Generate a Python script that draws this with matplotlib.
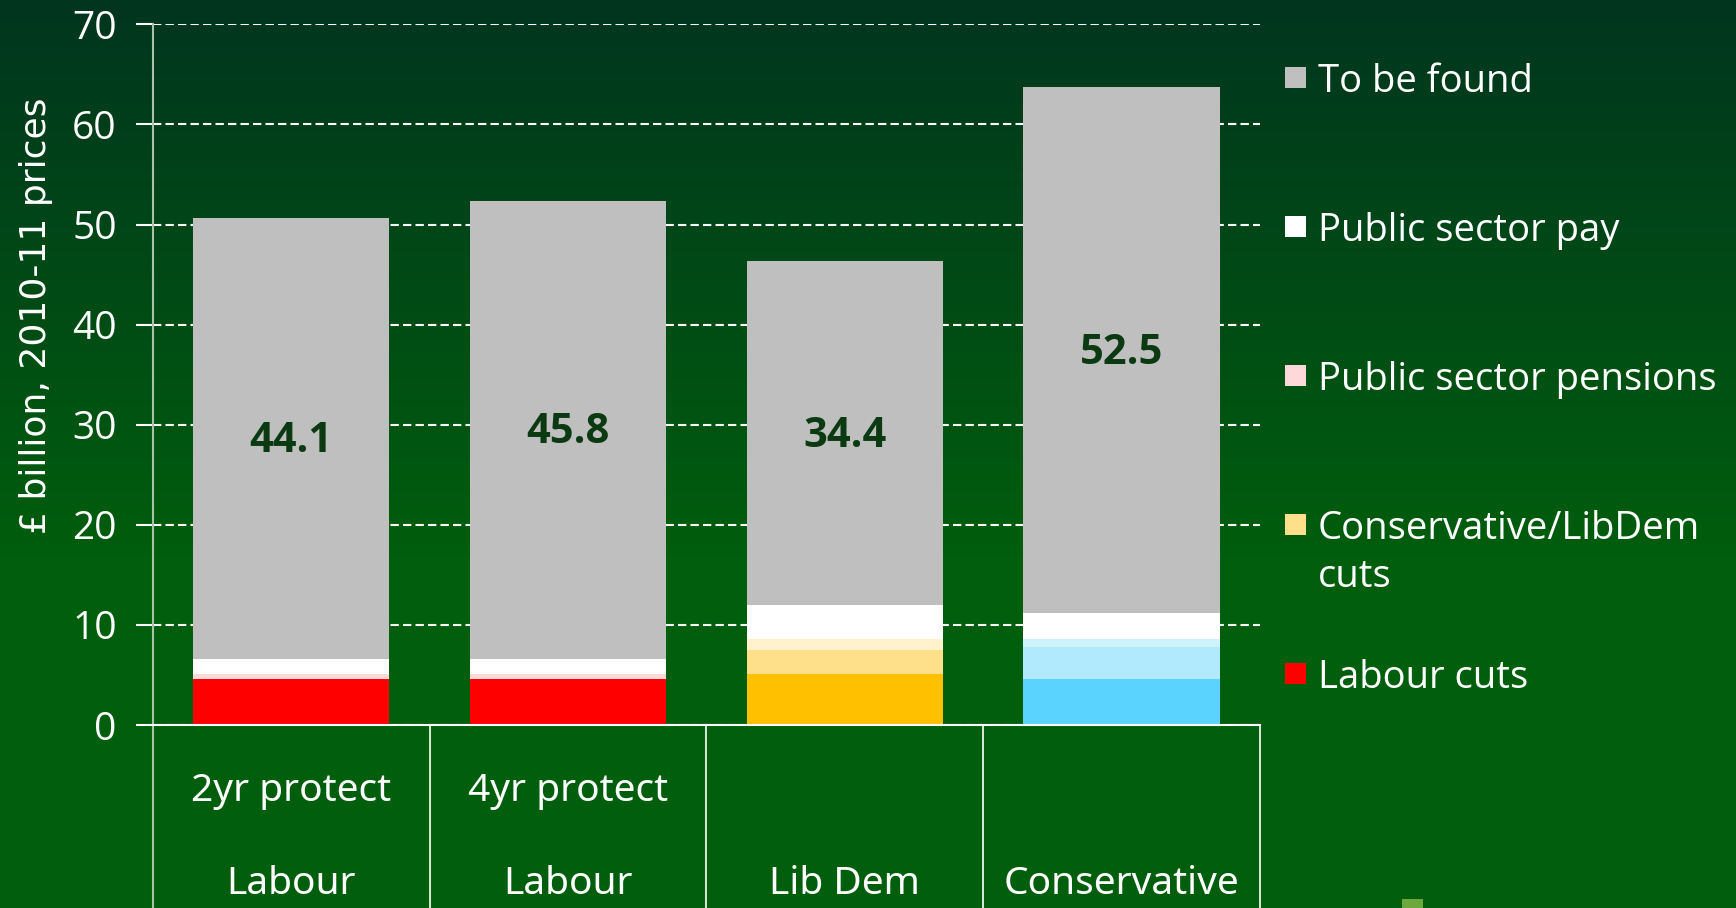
import matplotlib.pyplot as plt
import numpy as np
from matplotlib.patches import Rectangle

# data (GBP billion, 2010-11 prices)
cat_top = ['2yr protect', '4yr protect', '', '']
cat_bottom = ['Labour', 'Labour', 'Lib Dem', 'Conservative']
labour_cuts = [4.6, 4.6, 5.1, 4.6]
con_libdem_cuts = [0.0, 0.0, 2.4, 3.2]
pensions = [0.46, 0.46, 1.06, 0.8]
pay = [1.54, 1.54, 3.4, 2.6]
to_be_found = [44.1, 45.8, 34.4, 52.5]

series_names = ['Labour cuts', 'Conservative/LibDem cuts', 'Public sector pensions',
                'Public sector pay', 'To be found']
legend_colors = ['#FF0000', '#FFE08A', '#FFD9D9', '#FFFFFF', '#BFBFBF']

# each party has its own shading for the lower segments
bar_colors = [
    ['#FF0000', '#FFE08A', '#FADADA', '#FFFFFF', '#BFBFBF'],
    ['#FF0000', '#FFE08A', '#FADADA', '#FFFFFF', '#BFBFBF'],
    ['#FFC000', '#FFE08A', '#FFF2CC', '#FFFFFF', '#BFBFBF'],
    ['#5BD3FF', '#B1EAFD', '#CDF3FD', '#FFFFFF', '#BFBFBF'],
]

font = 'Open Sans'
W, H = 1736, 908

fig = plt.figure(figsize=(W / 100, H / 100), dpi=100)

# green gradient background
bg = fig.add_axes([0, 0, 1, 1], zorder=-10)
top_c = np.array([0.004, 0.21, 0.12])
bot_c = np.array([0.0, 0.37, 0.05])
t = np.clip(np.linspace(0, 1, 300) / 0.62, 0, 1)[:, None]
grad = top_c * (1 - t) + bot_c * t
bg.imshow(grad[:, None, :], aspect='auto', extent=[0, 1, 0, 1])
bg.axis('off')

ax = fig.add_axes([152.8 / W, 1 - 725 / H, (1260 - 152.8) / W, (725 - 24.4) / H])
ax.set_facecolor('none')

x = np.arange(len(cat_bottom))
stack = [labour_cuts, con_libdem_cuts, pensions, pay, to_be_found]
bottoms = np.zeros(len(x))
for k, vals in enumerate(stack):
    cols = [bar_colors[i][k] for i in range(len(x))]
    ax.bar(x, vals, width=0.71, bottom=bottoms, color=cols, zorder=3,
           edgecolor='none')
    bottoms += np.array(vals)

# value labels in the middle of the grey segment
base = np.array(labour_cuts) + np.array(con_libdem_cuts) + np.array(pensions) + np.array(pay)
for i, v in enumerate(to_be_found):
    ax.text(x[i], base[i] + v / 2 - 0.3, f'{v:.1f}', ha='center', va='center',
            fontsize=30, fontweight='bold', color='#0B3A12', family=font, zorder=4)

ax.set_xlim(-0.5, 3.5)
ax.set_ylim(0, 70)
ax.set_yticks(np.arange(0, 80, 10))
ax.yaxis.grid(True, color='white', linestyle=(0, (4, 2)), linewidth=1.5, zorder=0)
ax.set_axisbelow(True)
ax.set_xticks([])
ax.tick_params(axis='y', colors='white', length=12, width=1.5, pad=14, labelsize=28)
for lab in ax.get_yticklabels():
    lab.set_family(font)

for s in ['top', 'right', 'bottom']:
    ax.spines[s].set_visible(False)
ax.spines['left'].set_color('#A9C2A9')
ax.spines['left'].set_linewidth(1.5)

# category table below the axis
tr = ax.get_xaxis_transform()
low = -(H - 725 + 5) / (725 - 24.4)
ax.plot([-0.5, 3.5], [0, 0], color='white', lw=1.5, transform=tr, clip_on=False, zorder=5)
ax.plot([-0.5, -0.5], [0, low], color='#A9C2A9', lw=1.5, transform=tr, clip_on=False)
for b in np.arange(0.5, 4.0, 1.0):
    ax.plot([b, b], [0, low], color='white', lw=1.2, transform=tr, clip_on=False)
for i in range(len(x)):
    ax.text(x[i], -(791 - 725) / 700.6, cat_top[i], transform=tr, ha='center', va='center',
            color='white', fontsize=28, family='Noto Sans')
    ax.text(x[i], -(884 - 725) / 700.6, cat_bottom[i], transform=tr, ha='center', va='center',
            color='white', fontsize=28, family='Noto Sans')

fig.text(36.5 / W, 1 - 316 / H, '£ billion, 2010-11 prices', rotation=90, ha='center',
         va='center', color='white', fontsize=26, family=['Liberation Sans Narrow', 'DejaVu Sans'])

# legend drawn by hand to keep the wide row spacing
leg_y = [77.9, 226.5, 375.4, 524.8, 673]
leg_labels = ['To be found', 'Public sector pay', 'Public sector pensions',
              'Conservative/LibDem\ncuts', 'Labour cuts']
leg_cols = legend_colors[::-1]
for yy, lab, c in zip(leg_y, leg_labels, leg_cols):
    fig.patches.append(Rectangle((1285 / W, 1 - (yy + 10.5) / H), 21 / W, 21 / H,
                                 transform=fig.transFigure, facecolor=c, edgecolor='none'))
    fig.text(1318 / W, 1 - yy / H, lab.split('\n')[0], ha='left', va='center_baseline',
             color='white', fontsize=27.5, family=font)
    if '\n' in lab:
        fig.text(1318 / W, 1 - (yy + 47.5) / H, lab.split('\n')[1], ha='left',
                 va='center_baseline', color='white', fontsize=27.5, family=font)

# small logo fragment at the bottom edge
fig.patches.append(Rectangle((1402 / W, 0), 21 / W, 9 / H, transform=fig.transFigure,
                             facecolor='#6DA83F', edgecolor='none'))

fig.savefig('out.png', dpi=100)
